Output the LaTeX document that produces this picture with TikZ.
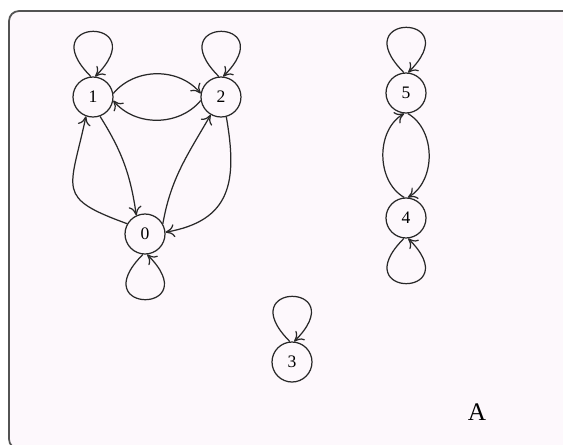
\documentclass[tikz,border=0pt]{standalone}
\usepackage{fontspec}
\setmainfont{Liberation Serif}
\usetikzlibrary{arrows.meta}
\definecolor{paper}{RGB}{253,248,252}
\definecolor{ink}{RGB}{40,40,40}
\tikzset{
  state/.style    = {circle, draw=ink, line width=0.7pt, minimum size=0.8cm, inner sep=0pt},
  selfloop/.style = {->, min distance=1.7cm},
  frame/.style    = {draw=ink!80, line width=1pt, rounded corners=0.2cm, fill=paper},
}
\begin{document}
\begin{tikzpicture}[x=0.02cm, y=-0.02cm, node distance=2.5cm,
    >={To[length=1.8mm,width=2.6mm]},
    every edge/.append style={draw=ink, line width=0.7pt}]
    \useasboundingbox (0,0) rectangle (563,444);
    \begin{scope}
        \clip (0,0) rectangle (563,444);
        \draw[frame] (9,11) rectangle (580,449);
    \end{scope}
    % left group
    \node [state] at (93,97)                          (n1) {1};
    \node [state, right of= n1, node distance=2.56cm] (n2) {2};
    \node [state] at (145,234)                        (n0) {0};
    % right group
    \node [state] at (406,93)                         (n5) {5};
    \node [state, below of= n5]                       (n4) {4};
    \node [state] at (292,362)                        (n3) {3};
    \node at (477,412)                                (lab) {\Large A};
    % self loops
    \path (n1.96)  edge[selfloop, out=135, in=45] (n1.84);
    \path (n2.96)  edge[selfloop, out=135, in=45] (n2.84);
    \path (n5.96)  edge[selfloop, out=135, in=45] (n5.84);
    \path (n3.96)  edge[selfloop, out=135, in=45] (n3.84);
    \path (n0.264) edge[selfloop, out=225, in=315] (n0.276);
    \path (n4.264) edge[selfloop, out=225, in=315] (n4.276);
    % transitions
    \path (n1.10)  edge[->, bend left=50] (n2.170);
    \path (n2.190) edge[->, bend left=50] (n1.350);
    \path (n0.150) edge[->, out=160, in=258, looseness=1.7] (n1.250);
    \path (n1.290) edge[->, bend left=12] (n0.115);
    \path (n0.30)  edge[->, out=80, in=240] (n2.240);
    \path (n2.285) edge[->, out=280, in=10, looseness=1.3] (n0.5);
    \path (n4.95)  edge[->, bend left=60] (n5.265);
    \path (n5.275) edge[->, bend left=60] (n4.85);
\end{tikzpicture}
\end{document}
